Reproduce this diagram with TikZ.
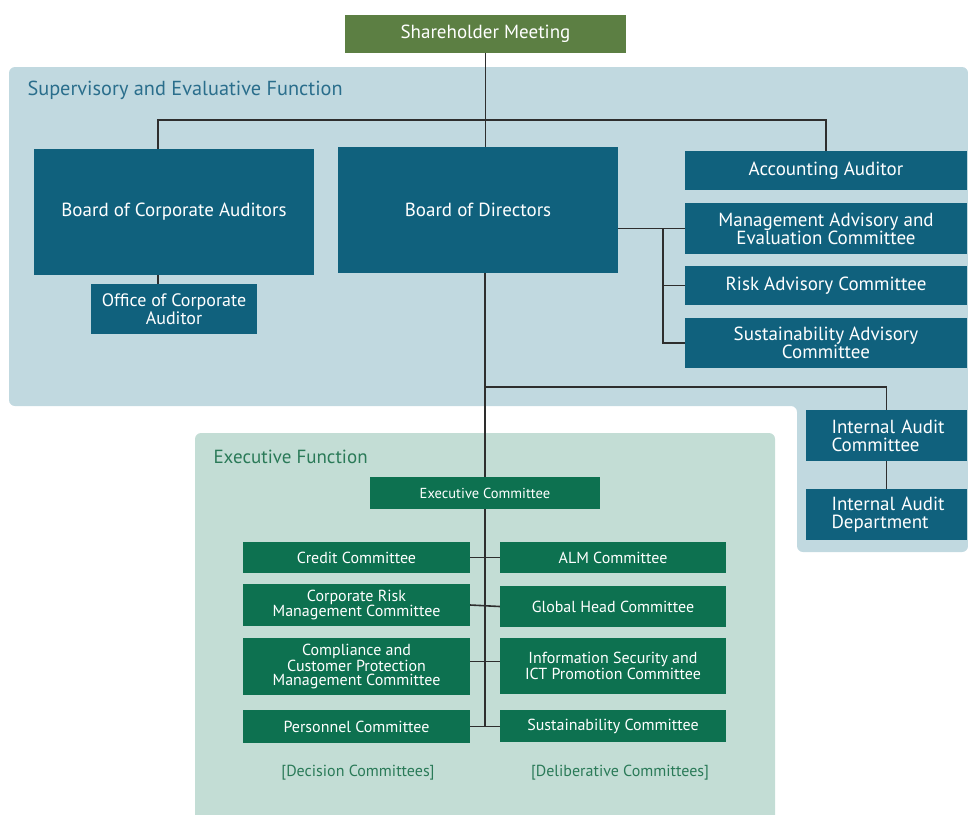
\documentclass[tikz,border=0pt]{standalone}
\usepackage{fontspec}
\setmainfont{PT Sans}
\usepackage{xcolor}
\usepackage{tikz}
\usetikzlibrary{positioning}

\definecolor{supbg}{HTML}{C1D9E0}
\definecolor{exebg}{HTML}{C3DDD5}
\definecolor{supbox}{HTML}{10617D}
\definecolor{exebox}{HTML}{0D7150}
\definecolor{sharebox}{HTML}{5C7F43}
\definecolor{suptext}{HTML}{2A6E8C}
\definecolor{exetext}{HTML}{2A7A58}
\definecolor{linegray}{HTML}{2E2E2E}

\newcommand{\bigtxt}{\fontsize{19}{18}\selectfont}
\newcommand{\smalltxt}{\fontsize{16}{14.5}\selectfont}

\begin{document}
\begin{tikzpicture}[x=1pt, y=-1pt,
	supnode/.style={fill=supbox, text=white, inner sep=0pt, align=center, font=\bigtxt},
	exenode/.style={fill=exebox, text=white, inner sep=0pt, align=center, font=\smalltxt},
	link/.style={draw=linegray, line width=1.6pt}]
				\useasboundingbox (0,0) rectangle (968,814);
				
				% backgrounds
				\fill [supbg, rounded corners=6pt]
				(9,67)--(968,67)--(968,552)--(797,552)--(797,406)--(9,406)--cycle;
				\fill [exebg, rounded corners=6pt]
				(195,433) rectangle (775,830);
				
				\node [anchor=west, text=suptext, font=\fontsize{20.3}{20}\selectfont] (suptitle) at (24,90) {Supervisory and Evaluative Function};
				\node [anchor=west, text=exetext, font=\fontsize{19}{19}\selectfont] (exetitle) at (210,457) {Executive Function};
				
				% supervisory side
				\node [supnode, fill=sharebox, minimum width=281, minimum height=38] (share) at (485.5,34) {Shareholder Meeting};
				\node [supnode, minimum width=280, minimum height=126] (bca) at (174,212) {Board of Corporate Auditors};
				\node [supnode, minimum width=166, minimum height=50, font=\fontsize{18}{16}\selectfont] (oca) at (174,309) {Office of Corporate\\Auditor};
				\node [supnode, minimum width=280, minimum height=126] (bod) at (478,210) {Board of Directors};
				\node [supnode, minimum width=282, minimum height=39] (acc) at (826,170.5) {Accounting Auditor};
				\node [supnode, minimum width=282, minimum height=51] (mae) at (826,228.5) {Management Advisory and\\Evaluation Committee};
				\node [supnode, minimum width=282, minimum height=39] (rac) at (826,285.5) {Risk Advisory Committee};
				\node [supnode, minimum width=282, minimum height=50] (sac) at (826,343) {Sustainability Advisory\\Committee};
				\node [supnode, align=left, text width=110, minimum width=161, minimum height=51] (iac) at (886.5,435.5) {\mbox{Internal Audit}\\Committee};
				\node [supnode, align=left, text width=110, minimum width=161, minimum height=51] (iad) at (886.5,514.5) {\mbox{Internal Audit}\\Department};
				
				% executive side
				\node [exenode, minimum width=230, minimum height=32, font=\fontsize{14.5}{14}\selectfont] (exec) at (485,493) {Executive Committee};
				\node [exenode, minimum width=227, minimum height=31] (credit) at (356.5,557.5) {Credit Committee};
				\node [exenode, minimum width=227, minimum height=42] (crm) at (356.5,605) {Corporate Risk\\Management Committee};
				\node [exenode, minimum width=227, minimum height=57] (ccp) at (356.5,666.5) {Compliance and\\Customer Protection\\Management Committee};
				\node [exenode, minimum width=227, minimum height=33] (pers) at (356.5,726.5) {Personnel Committee};
				\node [exenode, minimum width=226, minimum height=31] (alm) at (613,557.5) {ALM Committee};
				\node [exenode, minimum width=226, minimum height=41] (ghc) at (613,606.5) {Global Head Committee};
				\node [exenode, minimum width=226, minimum height=56] (isc) at (613,666) {Information Security and\\ICT Promotion Committee};
				\node [exenode, minimum width=226, minimum height=32] (susc) at (613,726) {Sustainability Committee};
				
				\node [text=exetext, font=\smalltxt] (decision) at (358,773) {[Decision Committees]};
				\node [text=exetext, font=\smalltxt] (deliberative) at (620,773) {[Deliberative Committees]};
				
				% connectors
				\coordinate (top) at (485,120);
				\coordinate (adv) at (663,229);
				\coordinate (audit) at (485,387);
				
				\draw [link] (share.south)--(share.south |- bod.north);
				\draw [link] ([xshift=-16pt]bca.north) |- (top) -| (acc.north);
				\draw [link] ([xshift=-16pt]bca.south)--([xshift=-16pt]bca.south |- oca.north);
				\draw [link] (bod.east |- mae.west)--(mae.west);
				\draw [link] (adv) |- (rac.west);
				\draw [link] (adv) |- (sac.west);
				\draw [link] (exec.north |- bod.south)--(exec.north);
				\draw [link] (audit) -| (iac.north);
				\draw [link] (iac.south)--(iad.north);
				\draw [link] (exec.south)--(exec.south |- pers.east);
				
				\draw [link] (credit.east)--(alm.west);
				\draw [link] (crm.east)--(ghc.west);
				\draw [link] ([yshift=5pt]ccp.east)--([yshift=5pt]ccp.east -| isc.west);
				\draw [link] (pers.east)--(pers.east -| susc.west);
			\end{tikzpicture}
\end{document}
